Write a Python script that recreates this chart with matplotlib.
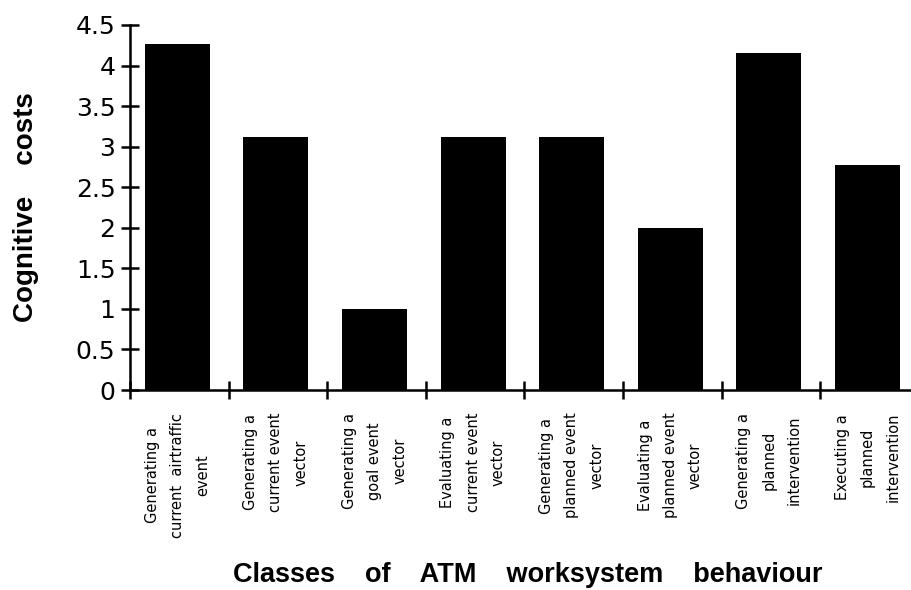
import numpy as np
import matplotlib.pyplot as plt

# categories and values
categories = [
    'Generating a\ncurrent  airtraffic\nevent',
    'Generating a\ncurrent event\nvector',
    'Generating a\ngoal event\nvector',
    'Evaluating a\ncurrent event\nvector',
    'Generating a\nplanned event\nvector',
    'Evaluating a\nplanned event\nvector',
    'Generating a\nplanned\nintervention',
    'Executing a\nplanned\nintervention',
]
costs = [4.27, 3.12, 1.0, 3.12, 3.12, 2.0, 4.15, 2.77]
ytick_values = [0, 0.5, 1, 1.5, 2, 2.5, 3, 3.5, 4, 4.5]
ytick_labels = ['0', '0.5', '1', '1.5', '2', '2.5', '3', '3.5', '4', '4.5']

plt.rcParams['font.family'] = 'DejaVu Sans'

fig = plt.figure(figsize=(9.11, 5.90), dpi=100)
W, H = 911, 590
# axes box in pixels: left 130, bottom 390, top 25, category width ~98.6
ax = fig.add_axes([130 / W, (H - 390) / H, 8 * 98.6 / W, 365 / H])

x = np.arange(len(costs))
ax.bar(x, costs, width=0.66, color='black')
ax.set_xlim(-0.48, 7.52)
ax.set_ylim(0, 4.5)

for s in ['top', 'right']:
    ax.spines[s].set_visible(False)
for s in ['left', 'bottom']:
    ax.spines[s].set_linewidth(1.8)

ax.set_yticks(ytick_values)
ax.set_yticklabels(ytick_labels, fontsize=18, family='DejaVu Sans')
ax.tick_params(axis='y', direction='inout', length=13, width=1.8, pad=4)

# tick marks sit on the category boundaries, labels at the bar centres
ax.set_xticks(np.arange(9) - 0.48)
ax.set_xticklabels([])
ax.tick_params(axis='x', which='major', direction='inout', length=13, width=1.8)
for xi, lab in zip(x, categories):
    ax.text(xi, -0.28, lab, rotation=90, ha='center', va='top',
            multialignment='center', fontsize=10.5, linespacing=1.85,
            family='DejaVu Sans', transform=ax.transData, clip_on=False)

title_font = 'Liberation Sans'
fig.text(26 / W, 0.5 * ((H - 390) + (H - 25)) / H, 'Cognitive    costs',
         rotation=90, ha='center', va='center', fontsize=20,
         fontweight='bold', family=title_font)
fig.text(528 / W, 15 / H, 'Classes    of    ATM    worksystem    behaviour',
         ha='center', va='center', fontsize=19.5, fontweight='bold',
         family=title_font)

plt.savefig('out.png', dpi=100)
